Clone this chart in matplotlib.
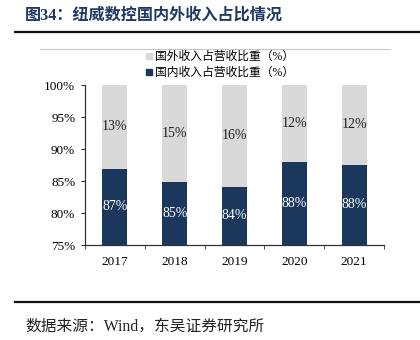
import matplotlib.pyplot as plt
from matplotlib.lines import Line2D
from matplotlib.ticker import FuncFormatter, FixedLocator

plt.rcParams['font.family'] = ['Liberation Serif', 'Noto Sans CJK SC']

years = ['2017', '2018', '2019', '2020', '2021']
domestic = [86.9, 84.8, 84.1, 88.0, 87.5]
foreign = [100 - d for d in domestic]

navy = '#1B375C'
grey = '#D9D9D9'

fig = plt.figure(figsize=(4.2, 3.4), dpi=100)
ax = fig.add_axes([85 / 420, 1 - 245 / 340, 299 / 420, 160 / 340])

x = range(len(years))
ax.bar(x, domestic, width=0.42, color=navy, zorder=2)
ax.bar(x, foreign, width=0.42, bottom=domestic, color=grey, zorder=2)

for i, (d, f) in enumerate(zip(domestic, foreign)):
    ax.text(i, (75 + d) / 2, f'{d:.0f}%', ha='center', va='center',
            color='white', fontsize=10)
    ax.text(i, d + f / 2, f'{f:.0f}%', ha='center', va='center',
            color='#222222', fontsize=10)

ax.set_xlim(-0.5, len(years) - 0.5)
ax.set_ylim(75, 100)
ax.set_yticks(range(75, 101, 5))
ax.yaxis.set_major_formatter(FuncFormatter(lambda v, p: f'{v:.0f}%'))
ax.set_xticks(list(x))
ax.set_xticklabels(years)
ax.xaxis.set_minor_locator(FixedLocator([i - 0.5 for i in range(len(years) + 1)]))
ax.tick_params(axis='x', which='major', length=0, pad=8, labelsize=9.5)
ax.tick_params(axis='x', which='minor', length=3, color='#333333')
ax.tick_params(axis='y', length=3, labelsize=9.5, pad=4, color='#333333')
for s in ['top', 'right']:
    ax.spines[s].set_visible(False)
for s in ['left', 'bottom']:
    ax.spines[s].set_color('#333333')
    ax.spines[s].set_linewidth(0.9)

handles = [
    Line2D([], [], marker='s', linestyle='', color=grey, markersize=5),
    Line2D([], [], marker='s', linestyle='', color=navy, markersize=5),
]
fig.legend(handles, ['国外收入占营收比重（%）', '国内收入占营收比重（%）'],
           loc='center left', bbox_to_anchor=(138 / 420, 1 - 65 / 340),
           frameon=False, fontsize=8.5, handletextpad=0.15, labelspacing=0.3,
           handlelength=0.8, borderpad=0)

# title, rules and source note
fig.text(25 / 420, 1 - 16 / 340, '图34：纽威数控国内外收入占比情况',
         fontsize=11.6, fontweight='bold', color='#1F3864', va='center')
fig.add_artist(Line2D([15 / 420, 1], [1 - 32 / 340] * 2, color='#111111', lw=1.6))
fig.add_artist(Line2D([40 / 420, 390 / 420], [1 - 49 / 340] * 2, color='#C8C8C8', lw=0.8))
fig.add_artist(Line2D([15 / 420, 1], [1 - 302 / 340] * 2, color='#111111', lw=1.6))
fig.text(25 / 420, 1 - 327 / 340, '数据来源：Wind，东吴证券研究所',
         fontsize=11.3, color='#222222', va='center')

fig.savefig('out.png', dpi=100)
